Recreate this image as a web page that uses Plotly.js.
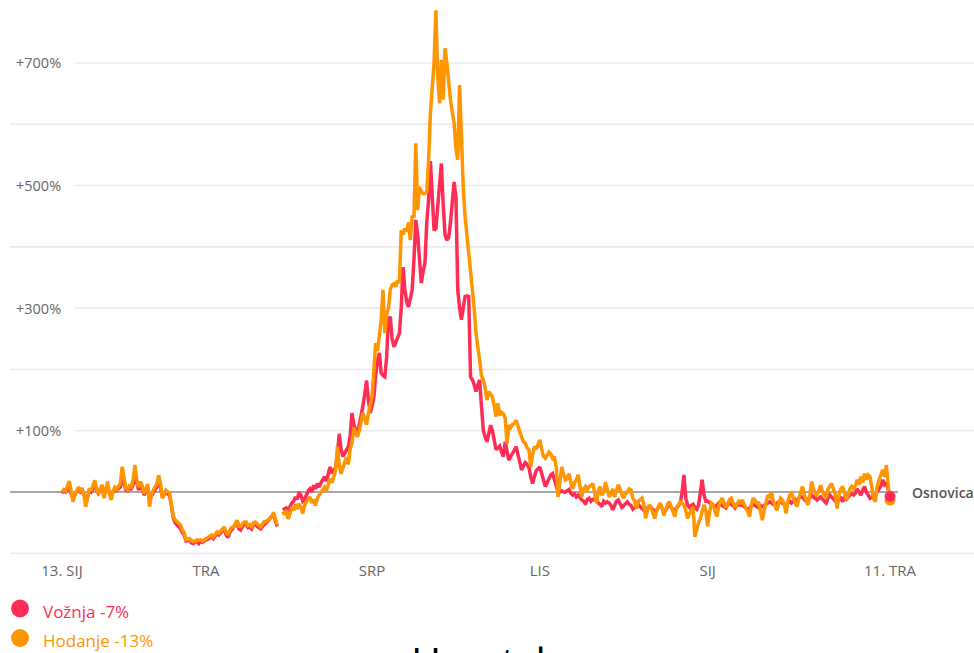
<!DOCTYPE html>
<html><head><meta charset="utf-8">
<script src="https://cdn.plot.ly/plotly-3.0.1.min.js"></script>
<style>html,body{margin:0;padding:0;background:#fff;overflow:hidden}#chart{width:974px;height:653px}</style>
</head><body><div id="chart"></div>
<script>
const startDate = '2020-01-13';
// Vožnja (driving), % change vs baseline, daily from 13 Jan 2020 to 11 Apr 2021
const drive = [
-2,2,0,6,10,-3,-10,-5,0,4,0,3,-5,-8,-8,2,0,6,10,
3,-2,3,6,-4,2,8,0,-5,0,5,3,5,8,25,12,3,2,5,5,12,28,12,3,10,6,-5,2,6,
-12,-6,0,4,8,18,8,-8,-4,0,-3,-6,-22,-42,-50,-53,-56,-60,-66,-70,-80,-79,-78,-83,-84,-82,-80,-84,-80,-82,-79,
-78,-77,-74,-72,-76,-72,-68,-70,-67,-63,-60,-70,-74,-66,-62,-60,-55,-50,-60,-62,-56,-52,-52,-58,-57,-60,-53,-52,-56,-59,
-60,-56,-52,-50,-47,-44,-40,-36,-47,-56,null,null,-29,-27,-26,-30,-22,-18,-15,-8,-12,0,-5,-15,-12,-5,2,5,0,11,5,
14,8,15,20,25,18,30,41,30,35,40,60,95,70,58,63,70,74,90,129,110,100,95,110,123,140,160,182,150,129,
140,155,190,215,227,194,190,188,220,281,286,250,237,245,255,259,300,367,330,310,302,320,330,380,444,420,380,341,360,373,440,
476,540,480,427,430,465,500,536,470,420,411,415,440,470,506,480,330,300,281,300,319,320,319,188,183,175,164,175,183,140,101,
90,82,95,109,100,85,69,72,75,65,58,82,65,52,58,62,68,74,60,45,36,42,48,45,40,25,14,25,35,38,
41,30,18,9,15,22,28,30,20,8,0,0,2,0,0,2,4,-2,-5,-3,-8,-5,-10,-13,-15,-20,-12,-10,-15,-12,-13,
-13,-18,-20,-24,-15,-18,-16,-18,-22,-29,-20,-15,-13,-20,-25,-22,-18,-16,-20,-22,-28,-25,-22,-20,-24,-28,-30,-32,-26,-24,
-26,-28,-32,-30,-25,-22,-26,-33,-30,-24,-22,-26,-28,-30,-25,-22,-18,0,28,-10,-21,-25,-22,-20,-25,-28,-22,-5,20,-5,-15,
-15,-18,-20,-22,-25,-22,-18,-20,-22,-24,-26,-20,-18,-20,-24,-26,-22,-20,-22,-20,-24,-26,-28,-27,-22,-20,-22,-24,-26,-22,-24,
-22,-20,-18,-16,-18,-20,-22,-18,-16,-15,-18,-20,-22,-18,-15,-18,-14,-12,-15,-10,-8,-8,-12,-15,-12,-10,-5,-8,
-10,-13,-10,-8,-12,-15,-18,-10,-5,-8,-12,-15,-16,-12,-8,-16,-10,-12,-8,-5,-3,-5,-2,5,0,-5,3,9,0,-5,-10,
-8,-10,-5,0,5,10,20,12,15,5,-7
];
// Hodanje (walking)
const walk = [
0,4,2,10,18,2,-16,-5,3,8,2,6,-3,-24,-10,6,2,10,19,
5,-3,5,12,-10,5,17,-2,-13,2,8,5,10,14,41,20,6,4,10,8,20,44,20,8,17,10,-3,5,13,
-24,-5,3,8,13,27,15,-10,-3,3,0,-2,-20,-40,-45,-48,-52,-54,-62,-66,-78,-77,-76,-79,-81,-80,-78,-79,-78,-80,-77,
-76,-74,-72,-70,-73,-68,-65,-67,-64,-60,-57,-66,-70,-62,-58,-57,-51,-46,-56,-57,-52,-49,-49,-55,-53,-56,-50,-49,-52,-55,
-57,-52,-48,-48,-45,-42,-41,-33,-45,-54,null,null,-32,-37,-30,-44,-35,-25,-30,-20,-28,-19,-25,-35,-22,-15,-12,-8,-18,-12,-22,
-10,-5,0,5,8,2,12,22,15,27,35,74,45,30,40,50,57,45,70,80,105,95,90,100,115,129,120,110,128,139,
155,200,243,230,260,280,330,259,290,300,330,338,340,335,345,341,427,420,430,425,440,411,449,450,569,460,498,490,487,487,490,
540,618,667,700,786,680,634,705,640,724,700,661,640,620,602,560,542,664,560,498,450,422,390,360,330,300,259,240,215,190,183,
170,150,164,160,155,140,123,145,125,130,128,120,79,109,105,110,112,117,105,98,90,82,80,72,69,41,60,74,70,80,
85,70,58,55,60,65,62,55,58,40,-8,20,41,30,20,22,30,15,5,15,20,28,10,-8,5,9,3,9,10,14,0,
-18,0,9,-5,0,16,5,-8,-2,5,-8,0,12,5,-5,-10,-3,0,5,3,-10,-15,-27,-15,-12,-10,-20,-43,-30,-21,
-25,-35,-43,-30,-22,-18,-25,-38,-30,-20,-16,-25,-32,-40,-25,-20,-16,-18,-21,-30,-43,-35,-28,-24,-73,-60,-50,-43,-30,-21,-30,
-56,-35,-18,-20,-30,-40,-25,-15,-10,-18,-26,-20,-12,-10,-18,-26,-20,-15,-18,-13,-20,-25,-32,-40,-20,-10,-13,-18,-18,-30,-46,
-30,-15,-5,-8,0,-15,-25,-30,-18,-10,-13,-20,-35,-15,-5,-2,-10,-18,-24,-10,0,9,-5,-15,-21,-5,17,5,
-2,-5,3,11,0,-5,-10,5,10,14,5,-5,-27,-5,5,9,0,-13,-5,5,9,5,10,20,12,25,15,30,20,28,25,
5,-10,-16,10,20,30,36,25,44,10,-13
];
const xTickDates = ['2020-01-13','2020-04-01','2020-07-01','2020-10-01','2021-01-01','2021-04-11'];
const xTickLabels = ['13. SIJ','TRA','SRP','LIS','SIJ','11. TRA'];
const labelledGrid = [100,300,500,700];
const plainGrid = [-100,200,400,600];
const seriesNames = ['Vožnja -7%','Hodanje -13%'];
const seriesColors = ['#FF2D55','#FF9500'];
const chartTitle = 'Hrvatska';
const baselineLabel = 'Osnovica';

function buildDates(start, n){
  const out=[]; const t0=Date.parse(start+'T00:00:00Z');
  for(let i=0;i<n;i++){ out.push(new Date(t0+i*86400000).toISOString().slice(0,10)); }
  return out;
}
const dates = buildDates(startDate, drive.length);
const last = dates.length-1;

const W=974,H=653,L=10,R=0,T=0,B=93;
const pw=W-L-R, ph=H-T-B;
const PX=p=>(p-L)/pw;
const PY=p=>(H-B-p)/ph;
const FONT='"Open Sans", "Noto Sans", sans-serif';

const traces = [
  {x:dates,y:drive,type:'scatter',mode:'lines',line:{color:seriesColors[0],width:3.5},connectgaps:false,hoverinfo:'skip'},
  {x:dates,y:walk,type:'scatter',mode:'lines',line:{color:seriesColors[1],width:3.5},connectgaps:false,hoverinfo:'skip'},
  {x:[dates[last]],y:[walk[last]],type:'scatter',mode:'markers',marker:{color:seriesColors[1],size:11},hoverinfo:'skip'},
  {x:[dates[last]],y:[drive[last]],type:'scatter',mode:'markers',marker:{color:seriesColors[0],size:11},hoverinfo:'skip'}
];

const shapes = [];
labelledGrid.forEach(v=>shapes.push({type:'line',xref:'paper',yref:'y',x0:PX(75),x1:1,y0:v,y1:v,line:{color:'#ebebeb',width:1.6},layer:'below'}));
plainGrid.forEach(v=>shapes.push({type:'line',xref:'paper',yref:'y',x0:0,x1:1,y0:v,y1:v,line:{color:'#ebebeb',width:1.6},layer:'below'}));
shapes.push({type:'line',xref:'paper',yref:'y',x0:0,x1:PX(898),y0:0,y1:0,line:{color:'#555555',width:1.2},layer:'below'});
[608.5,638].forEach((py,i)=>shapes.push({type:'circle',xref:'paper',yref:'paper',xsizemode:'pixel',ysizemode:'pixel',xanchor:PX(20),yanchor:PY(py),x0:-9,x1:9,y0:-9,y1:9,fillcolor:seriesColors[i],line:{width:0}}));

const annotations = [];
labelledGrid.forEach(v=>annotations.push({xref:'paper',yref:'y',x:PX(63),y:v,xanchor:'right',yanchor:'middle',showarrow:false,text:'+'+v+'%',font:{family:FONT,size:14.5,color:'#666'}}));
annotations.push({xref:'paper',yref:'y',x:PX(910),y:0,xanchor:'left',yanchor:'middle',showarrow:false,text:baselineLabel,font:{family:FONT,size:14,color:'#555',weight:600}});
[611.5,640.5].forEach((py,i)=>annotations.push({xref:'paper',yref:'paper',x:PX(41),y:PY(py),xanchor:'left',yanchor:'middle',showarrow:false,text:seriesNames[i],font:{family:FONT,size:17,color:seriesColors[i]}}));
annotations.push({xref:'paper',yref:'paper',x:PX(495),y:PY(631),xanchor:'center',yanchor:'top',showarrow:false,text:chartTitle,font:{family:FONT,size:41,color:'#000'}});

const layout = {
  width:W,height:H,margin:{l:L,r:R,t:T,b:B,pad:0},
  paper_bgcolor:'#fff',plot_bgcolor:'rgba(0,0,0,0)',showlegend:false,
  xaxis:{type:'date',range:['2019-12-15 12:00','2021-05-27 01:00'],tickvals:xTickDates,ticktext:xTickLabels,
    showgrid:false,zeroline:false,showline:false,ticks:'',tickfont:{family:FONT,size:15,color:'#666'},fixedrange:true},
  yaxis:{range:[-110.9,802.7],showgrid:false,zeroline:false,showline:false,showticklabels:false,fixedrange:true},
  shapes:shapes,annotations:annotations
};
Plotly.newPlot('chart',traces,layout,{displayModeBar:false,staticPlot:true});
</script></body></html>
